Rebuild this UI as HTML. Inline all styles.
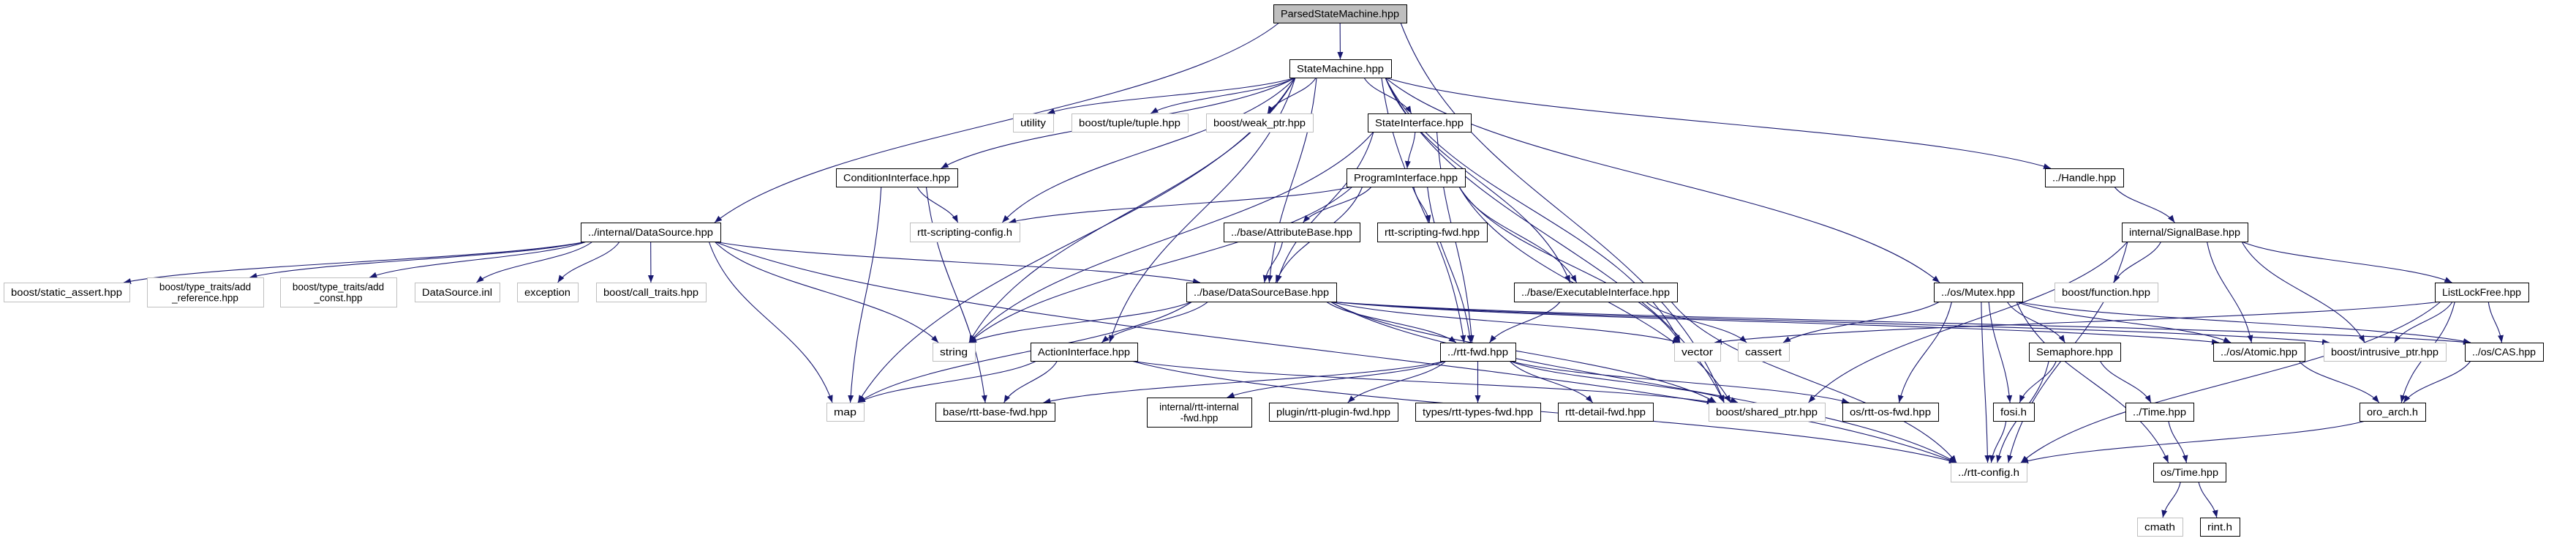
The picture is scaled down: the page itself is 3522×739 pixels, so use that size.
<!DOCTYPE html>
<html><head><meta charset="utf-8"><style>
html,body{margin:0;padding:0;background:#fff;width:3522px;height:739px;overflow:hidden}
svg{display:block}
text{font-family:"Liberation Sans","DejaVu Sans",sans-serif;font-size:13.5px;fill:#000}
</style></head><body>
<svg id="g" width="3522" height="739" viewBox="0 0 3522 739" xmlns="http://www.w3.org/2000/svg">
<defs><marker id="a" viewBox="0 0 10 10" refX="10" refY="5" markerWidth="10" markerHeight="10" markerUnits="userSpaceOnUse" orient="auto"><path d="M0,1 L10,5 L0,9 z" fill="#191970"/></marker></defs>
<g id="E"></g><g id="N"></g>
</svg>
<script>
var N={
PSM:[1741,6,1923,31,"ParsedStateMachine.hpp",2],
SM:[1763,81,1902,106,"StateMachine.hpp",1],
DS:[794,304,985,330,"../internal/DataSource.hpp",1],
SA:[5,386,177,412,"boost/static_assert.hpp",0],
AR:[201,379,360,419,"boost/type_traits/add\n_reference.hpp",0],
AC:[383,379,542,419,"boost/type_traits/add\n_const.hpp",0],
DI:[567,386,683,412,"DataSource.inl",0],
EX:[707,386,790,412,"exception",0],
CT:[815,386,965,412,"boost/call_traits.hpp",0],
UT:[1385,155,1440,180,"utility",0],
TU:[1465,155,1624,180,"boost/tuple/tuple.hpp",0],
WP:[1649,155,1795,180,"boost/weak_ptr.hpp",0],
CI:[1143,230,1309,255,"ConditionInterface.hpp",1],
SC:[1244,304,1394,330,"rtt-scripting-config.h",0],
AB:[1673,304,1859,330,"../base/AttributeBase.hpp",1],
DB:[1622,386,1827,412,"../base/DataSourceBase.hpp",1],
ST:[1275,468,1333,493,"string",0],
AI:[1409,468,1555,493,"ActionInterface.hpp",1],
MP:[1130,550,1181,575,"map",0],
BF:[1279,550,1442,575,"base/rtt-base-fwd.hpp",1],
IF:[1568,543,1711,583,"internal/rtt-internal\n-fwd.hpp",1],
PF:[1735,550,1911,575,"plugin/rtt-plugin-fwd.hpp",1],
SI:[1870,155,2011,180,"StateInterface.hpp",1],
PI:[1841,230,2003,255,"ProgramInterface.hpp",1],
SF:[1883,304,2033,330,"rtt-scripting-fwd.hpp",1],
EI:[2070,386,2293,412,"../base/ExecutableInterface.hpp",1],
RF:[1969,468,2072,493,"../rtt-fwd.hpp",1],
VE:[2289,468,2352,493,"vector",0],
CA:[2376,468,2446,493,"cassert",0],
TF:[1935,550,2106,575,"types/rtt-types-fwd.hpp",1],
DF:[2130,550,2260,575,"rtt-detail-fwd.hpp",1],
SP:[2336,550,2495,575,"boost/shared_ptr.hpp",0],
OF:[2519,550,2650,575,"os/rtt-os-fwd.hpp",1],
MU:[2644,386,2765,412,"../os/Mutex.hpp",1],
RC:[2667,632,2771,658,"../rtt-config.h",0],
HA:[2796,230,2903,255,"../Handle.hpp",1],
SB:[2901,304,3073,330,"internal/SignalBase.hpp",1],
FN:[2809,386,2950,412,"boost/function.hpp",0],
LL:[3329,386,3457,412,"ListLockFree.hpp",1],
SE:[2774,468,2899,493,"Semaphore.hpp",1],
AT:[3026,468,3151,493,"../os/Atomic.hpp",1],
IP:[3177,468,3344,493,"boost/intrusive_ptr.hpp",0],
CS:[3370,468,3477,493,"../os/CAS.hpp",1],
FO:[2725,550,2781,575,"fosi.h",1],
TI:[2906,550,2999,575,"../Time.hpp",1],
OA:[3226,550,3316,575,"oro_arch.h",1],
OT:[2944,632,3043,658,"os/Time.hpp",1],
CM:[2922,707,2984,732,"cmath",0],
RI:[3008,707,3062,732,"rint.h",1]
};
var E=[
"PSM SM","PSM DS","PSM SP",
"SM UT","SM TU","SM WP","SM CI","SM SC","SM MP","SM ST","SM SI","SM AI","SM DB","SM RF","SM EI","SM VE","SM SP","SM HA","SM MU",
"SI PI","SI DB","SI ST","SI RF",
"PI AB","PI SF","PI DB","PI ST","PI SC","PI RF","PI EI","PI VE","PI SP",
"CI SC","CI MP","CI BF","AB DB",
"DS SA","DS AR","DS AC","DS DI","DS EX","DS CT","DS DB","DS ST","DS MP","DS RC",
"DB ST","DB MP","DB AI","DB RF","DB VE","DB RC","DB SP","DB IP","DB AT","DB CS",
"AI MP","AI BF","AI RC","AI SP",
"RF BF","RF IF","RF PF","RF TF","RF DF","RF SP","RF OF",
"EI RF","EI CA","EI RC",
"HA SB","SB SP","SB FN","SB RC","SB AT","SB IP","SB LL",
"MU CA","MU OF","MU FO","MU RC","MU SE","MU OT","MU AT","MU CS",
"SE FO","SE RC","SE TI","FO RC","TI OT","OT CM","OT RI",
"AT OA","CS OA","OA RC","LL VE","LL IP","LL CS","LL OA","LL RC"
];
var ns="http://www.w3.org/2000/svg";
function el(t,a,p){var e=document.createElementNS(ns,t);for(var k in a)e.setAttribute(k,a[k]);p.appendChild(e);return e;}
var eg=document.getElementById("E"),ng=document.getElementById("N");
E.forEach(function(s){var p=s.split(" "),A=N[p[0]],B=N[p[1]];
 var x1=(A[0]+A[2])/2,y1=A[3],x2=(B[0]+B[2])/2,y2=B[1],d;
 var dx=x2-x1;
 x1+=Math.max(-(A[2]-A[0])/2+8,Math.min((A[2]-A[0])/2-8,dx*0.3));
 var hw=(B[2]-B[0])/2-8; x2-=Math.max(-hw,Math.min(hw,dx*0.1));
 dx=x2-x1;var dy=y2-y1;
 d="M"+x1+","+y1+" C"+(x1+dx*0.2)+","+(y1+dy*0.45)+" "+(x2-dx*0.2)+","+(y2-dy*0.45)+" "+x2+","+y2;
 el("path",{d:d,fill:"none",stroke:"#191970","stroke-width":"1.1","marker-end":"url(#a)"},eg);
});
for(var k in N){var n=N[k];
 el("rect",{x:n[0]+.5,y:n[1]+.5,width:n[2]-n[0],height:n[3]-n[1],fill:n[5]==2?"#bfbfbf":"#fff",stroke:n[5]?"#000":"#bfbfbf","stroke-width":1},ng);
 var lines=n[4].split("\n"),cx=(n[0]+n[2])/2,cy=(n[1]+n[3])/2;
 lines.forEach(function(L,i){var y=cy+5+(i-(lines.length-1)/2)*15;
  var t=el("text",{x:cx,y:y,"text-anchor":"middle"},ng);t.textContent=L;
  var w=(n[2]-n[0])-20;
  if(lines.length==1){t.setAttribute("textLength",w);t.setAttribute("lengthAdjust","spacingAndGlyphs");}
 });
}
</script>
</body></html>
